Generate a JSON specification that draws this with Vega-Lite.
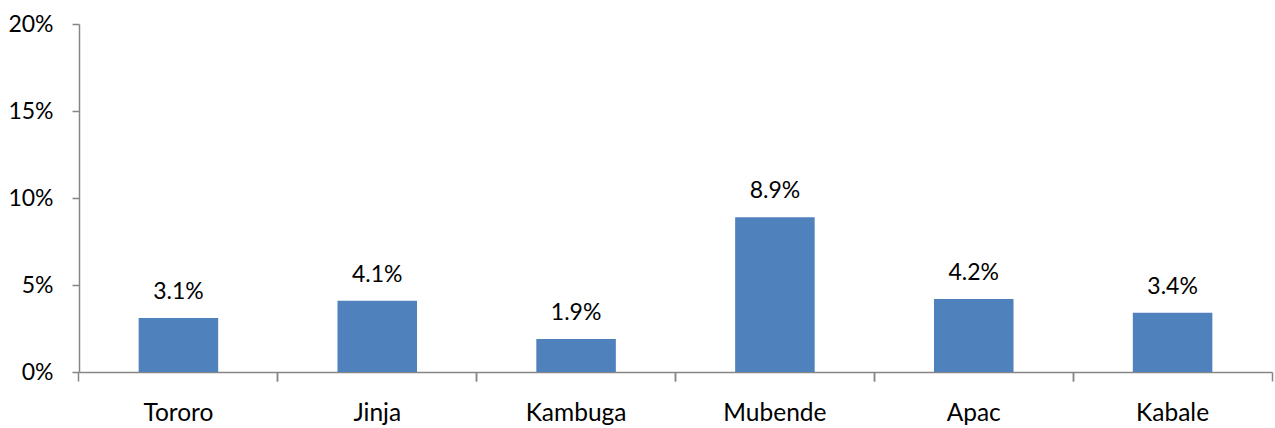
{
  "$schema": "https://vega.github.io/schema/vega-lite/v6.json",
  "width": 1193,
  "height": 348,
  "autosize": {"type": "none"},
  "padding": {"left": 79, "top": 24, "right": 3, "bottom": 56},
  "background": "white",
  "config": {
    "view": {"stroke": null},
    "font": "Lato",
    "axis": {"labelFont": "Lato", "labelFontSize": 23, "labelColor": "#000000", "domainColor": "#868686", "tickColor": "#868686", "domainWidth": 1.5, "tickWidth": 1.5, "grid": false, "title": null}
  },
  "data": {"values": [
    {"district": "Tororo", "value": 0.031},
    {"district": "Jinja", "value": 0.041},
    {"district": "Kambuga", "value": 0.019},
    {"district": "Mubende", "value": 0.089},
    {"district": "Apac", "value": 0.042},
    {"district": "Kabale", "value": 0.034}
  ]},
  "layer": [
    {
      "mark": {"type": "bar", "color": "#4F81BD"},
      "encoding": {
        "x": {"field": "district", "type": "nominal", "sort": null,
          "scale": {"paddingInner": 0.6, "paddingOuter": 0.3},
          "axis": {"orient": "bottom", "labelAngle": 0, "tickSize": 9, "bandPosition": -0.75, "labelPadding": 20, "labelFontSize": 24.5, "labelBaseline": "top",
            "labelAlign": "center"}},
        "y": {"field": "value", "type": "quantitative",
          "scale": {"domain": [0, 0.2], "nice": false},
          "axis": {"format": ".0%", "values": [0, 0.05, 0.1, 0.15, 0.2], "tickSize": 7, "labelPadding": 19}}
      }
    },
    {
      "mark": {"type": "text", "font": "Lato", "fontSize": 23, "color": "#000000", "baseline": "alphabetic", "dy": -19},
      "encoding": {
        "x": {"field": "district", "type": "nominal", "sort": null,
          "axis": {"orient": "bottom", "labels": false, "domain": false, "tickSize": 9, "bandPosition": 1.75}},
        "y": {"field": "value", "type": "quantitative"},
        "text": {"field": "value", "type": "quantitative", "format": ".1%"}
      }
    }
  ],
  "resolve": {"axis": {"x": "independent"}}
}
